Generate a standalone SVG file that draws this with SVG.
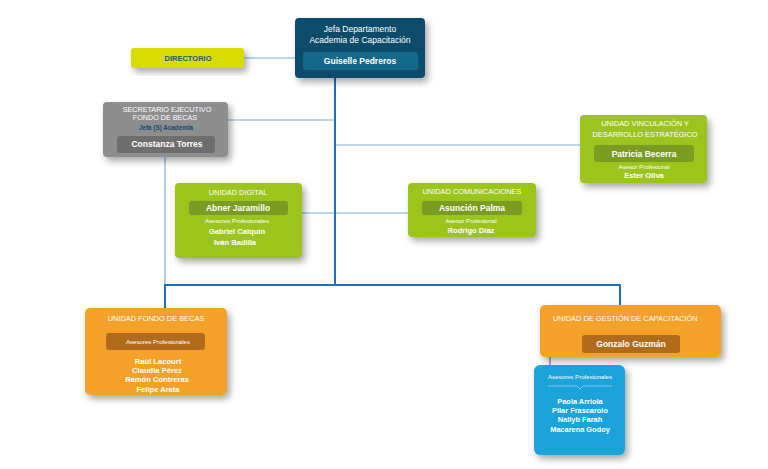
<svg xmlns="http://www.w3.org/2000/svg" width="768" height="469" viewBox="0 0 768 469">
<defs>
<filter id="sh" x="-20%" y="-20%" width="150%" height="160%">
<feDropShadow dx="3" dy="4" stdDeviation="3.5" flood-color="#000" flood-opacity="0.35"/>
</filter>
<style>
text{font-family:"Liberation Sans",Arial,sans-serif;text-anchor:middle;fill:#fff}
.b{font-weight:bold}
.cap{font-size:7.4px}
.nm{font-size:8.5px;font-weight:bold}
.sm{font-size:6.1px}
.pn{font-size:7.6px;font-weight:bold}
.thick{stroke:#1f6fbf;stroke-width:2;fill:none}
.thin{stroke:#7aaedc;stroke-width:1.2;fill:none}
.green{fill:#9dc41c}
.gpill{fill:#7b9c22}
.orange{fill:#f4a12a}
.opill{fill:#b06b1c}
</style>
</defs>
<g id="connectors">
<line class="thin" x1="244" y1="58" x2="296" y2="58"/>
<line class="thin" x1="228" y1="120" x2="335" y2="120"/>
<line class="thin" x1="335" y1="145" x2="580" y2="145"/>
<line class="thin" x1="302" y1="213" x2="408" y2="213"/>
<line class="thin" x1="165" y1="157" x2="165" y2="285"/>
<line class="thick" x1="335" y1="78" x2="335" y2="285"/>
<polyline class="thick" points="165,308 165,285 620,285 620,306"/>
<line stroke="#1f6fbf" stroke-width="1" x1="550" y1="357" x2="550" y2="366"/>
</g>
<g id="jefa">
<rect x="295" y="18" width="130" height="60" rx="4" fill="#0e4c6b" filter="url(#sh)"/>
<text x="360" y="32" font-size="8.5">Jefa Departamento</text>
<text x="360" y="43" font-size="8.5">Academia de Capacitación</text>
<rect x="303" y="52" width="115" height="18" rx="3" fill="#14698a"/>
<text x="360" y="64" class="nm">Guiselle Pedreros</text>
</g>
<g id="directorio">
<rect x="131" y="48" width="113" height="20" rx="3" fill="#d9dc00" filter="url(#sh)"/>
<text x="188" y="61" class="b" font-size="7.5" style="fill:#1d5a7a">DIRECTORIO</text>
</g>
<g id="secretario">
<rect x="103" y="102" width="125" height="55" rx="4" fill="#8e8e8e" filter="url(#sh)"/>
<text x="167" y="112" font-size="7.2">SECRETARIO EJECUTIVO</text>
<text x="165" y="120" font-size="7.2">FONDO DE BECAS</text>
<text x="166" y="130" class="b" font-size="6.3" style="fill:#0e4c6b">Jefa (S) Academia</text>
<rect x="117" y="136" width="98" height="17" rx="3" fill="#6e6e6e"/>
<text x="167" y="147" class="nm">Constanza Torres</text>
</g>
<g id="vinculacion">
<rect x="580" y="115" width="127" height="68" rx="4" class="green" filter="url(#sh)"/>
<text x="645" y="126" class="cap">UNIDAD VINCULACIÓN  Y</text>
<text x="645" y="137" class="cap">DESARROLLO ESTRATÉGICO</text>
<rect x="594" y="145" width="100" height="17" rx="3" class="gpill"/>
<text x="644" y="157" class="nm">Patricia Becerra</text>
<text x="644" y="169" class="sm">Asesor Profesional</text>
<text x="644" y="178" class="pn">Ester Oliva</text>
</g>
<g id="digital">
<rect x="175" y="183" width="127" height="75" rx="4" class="green" filter="url(#sh)"/>
<text x="238" y="195" class="cap">UNIDAD DIGITAL</text>
<rect x="189" y="201" width="99" height="14" rx="3" class="gpill"/>
<text x="238" y="211" class="nm">Abner Jaramillo</text>
<text x="237" y="223" class="sm">Asesores Profesionales</text>
<text x="237" y="234" class="pn" font-size="8">Gabriel Calquín</text>
<text x="235" y="245" class="pn" font-size="8">Iván Badilla</text>
</g>
<g id="comunicaciones">
<rect x="408" y="183" width="128" height="54" rx="4" class="green" filter="url(#sh)"/>
<text x="472" y="194" class="cap">UNIDAD COMUNICACIONES</text>
<rect x="422" y="201" width="100" height="14" rx="3" class="gpill"/>
<text x="472" y="211" class="nm">Asunción Palma</text>
<text x="471" y="223" class="sm">Asesor Profesional</text>
<text x="471" y="233" class="pn">Rodrigo Díaz</text>
</g>
<g id="fondo">
<rect x="85" y="308" width="142" height="87" rx="5" class="orange" filter="url(#sh)"/>
<text x="156" y="321" class="cap">UNIDAD FONDO DE BECAS</text>
<rect x="106" y="333" width="99" height="17" rx="3" class="opill"/>
<text x="158" y="344" class="sm">Asesores Profesionales</text>
<text x="158" y="364" class="pn">Raúl Lacourt</text>
<text x="157" y="373" class="pn">Claudia Pérez</text>
<text x="157" y="382" class="pn">Ramón Contreras</text>
<text x="158" y="392" class="pn">Felipe Arata</text>
</g>
<g id="gestion">
<rect x="540" y="305" width="181" height="52" rx="5" class="orange" filter="url(#sh)"/>
<text x="553" y="321" class="cap" style="text-anchor:start">UNIDAD DE GESTIÓN DE CAPACITACIÓN</text>
<rect x="582" y="335" width="98" height="18" rx="3" class="opill"/>
<text x="631" y="347" class="nm">Gonzalo Guzmán</text>
</g>
<g id="asesores-gestion">
<rect x="534" y="365" width="91" height="90" rx="6" fill="#1aa3d9" filter="url(#sh)"/>
<text x="580" y="379" class="sm">Asesores Profesionales</text>
<polyline points="548,386 577,386 580,389 583,386 612,386" fill="none" stroke="#bfe6f6" stroke-width="0.6"/>
<text x="580" y="404" class="b" font-size="7.4">Paola Arriola</text>
<text x="580" y="413" class="b" font-size="7.4">Pilar Frascarolo</text>
<text x="580" y="422" class="b" font-size="7.4">Nallyb Farah</text>
<text x="580" y="432" class="b" font-size="7.4">Macarena  Godoy</text>
</g>
</svg>
